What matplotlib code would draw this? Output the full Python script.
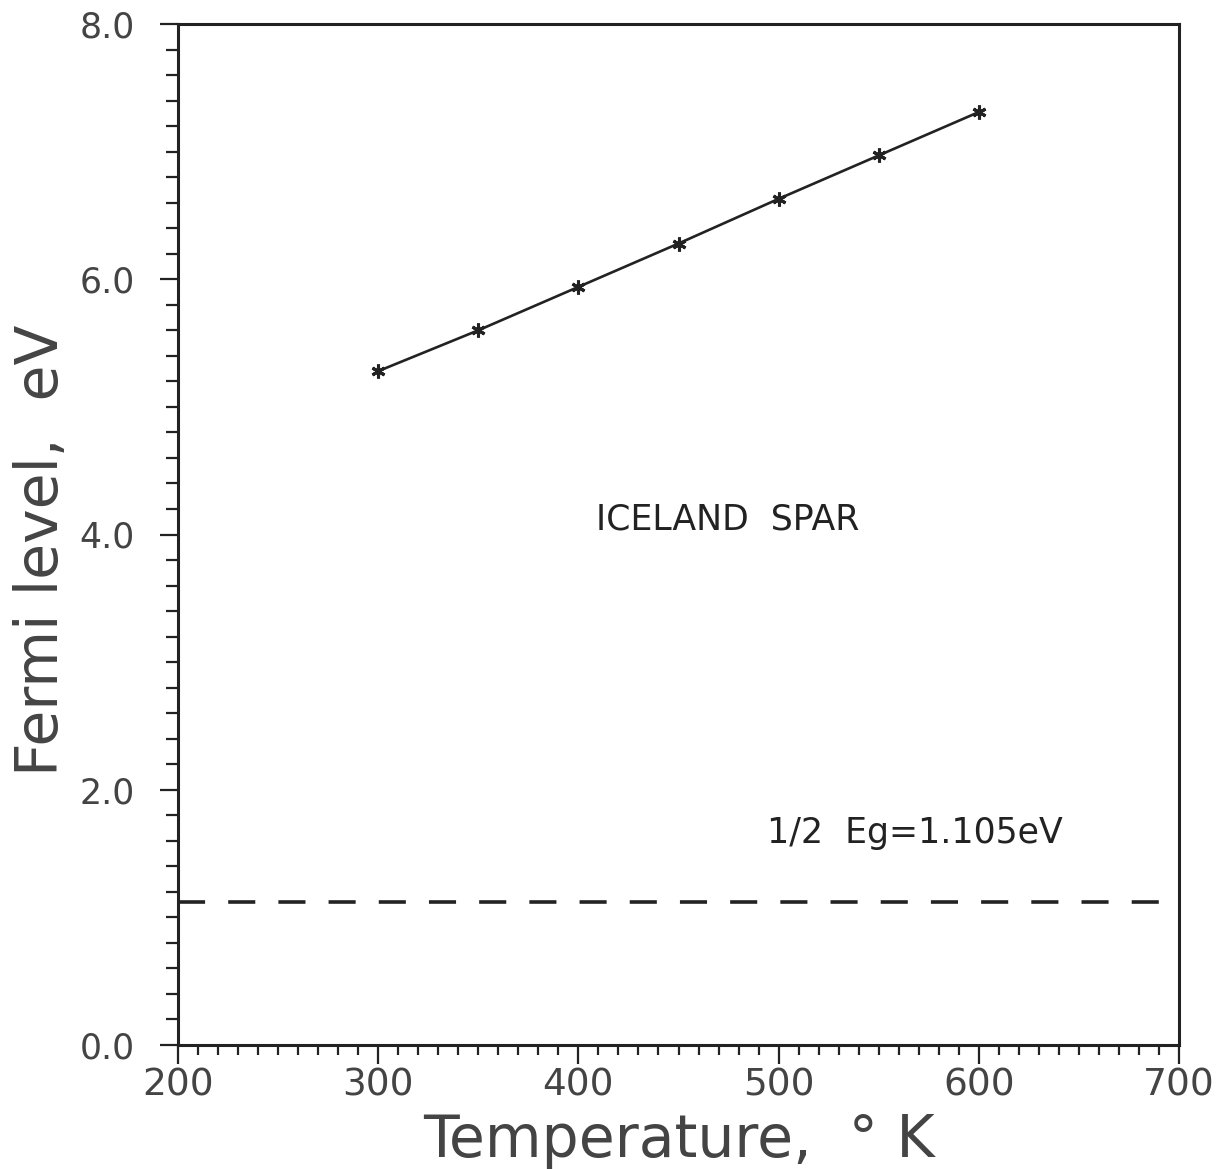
import matplotlib
matplotlib.use("Agg")
import matplotlib.pyplot as plt
from matplotlib.ticker import MultipleLocator, FormatStrFormatter

# Data
temperature = [300, 350, 400, 450, 500, 550, 600]
fermi_level = [5.28, 5.60, 5.94, 6.28, 6.63, 6.97, 7.31]
half_eg_x = [200, 690]
half_eg_y = [1.12, 1.12]

x_ticks = [200, 300, 400, 500, 600, 700]
y_ticks = [0.0, 2.0, 4.0, 6.0, 8.0]

plt.rcParams['font.family'] = ['DejaVu Sans']

fig = plt.figure(figsize=(12.22, 11.69), dpi=100)
ax = fig.add_axes([178/1222, 1 - 1045/1169, (1179-178)/1222, (1045-24)/1169])

ax.plot(temperature, fermi_level, color='#222222', lw=1.9,
        marker=(6, 2, 0), ms=10, mew=2.2, mec='#222222')
ax.plot(half_eg_x, half_eg_y, color='#222222', lw=2.6,
        dashes=(7.5, 6.4))

ax.set_xlim(200, 700)
ax.set_ylim(0, 8)
ax.set_xticks(x_ticks)
ax.set_yticks(y_ticks)
ax.xaxis.set_minor_locator(MultipleLocator(10))
ax.yaxis.set_minor_locator(MultipleLocator(0.2))
ax.yaxis.set_major_formatter(FormatStrFormatter('%.1f'))

for s in ax.spines.values():
    s.set_linewidth(2.2)
    s.set_color('#222222')

ax.tick_params(axis='x', which='major', direction='out', length=14, width=1.6,
               labelsize=27, pad=2, colors='#222222', labelcolor='#444444')
ax.tick_params(axis='x', which='minor', direction='out', length=7.5, width=1.6,
               colors='#222222')
ax.tick_params(axis='y', which='major', direction='out', length=13, width=1.6,
               labelsize=25, pad=18, colors='#222222', labelcolor='#444444')
ax.tick_params(axis='y', which='minor', direction='out', length=9, width=1.6,
               colors='#222222')
ax.tick_params(top=False, right=False, which='both')

ax.set_xlabel('Temperature,  ° K', fontsize=42, color='#444444', labelpad=6)
ax.set_ylabel('Fermi level,  eV', fontsize=42, color='#444444')
ax.yaxis.set_label_coords(-0.108, 0.485)

ax.text(409, 4.12, 'ICELAND  SPAR', fontsize=25, color='#222222',
        ha='left', va='center')
ax.text(494, 1.66, '1/2  Eg=1.105eV', fontsize=25, color='#222222',
        ha='left', va='center')

fig.savefig('out.png', dpi=100)
